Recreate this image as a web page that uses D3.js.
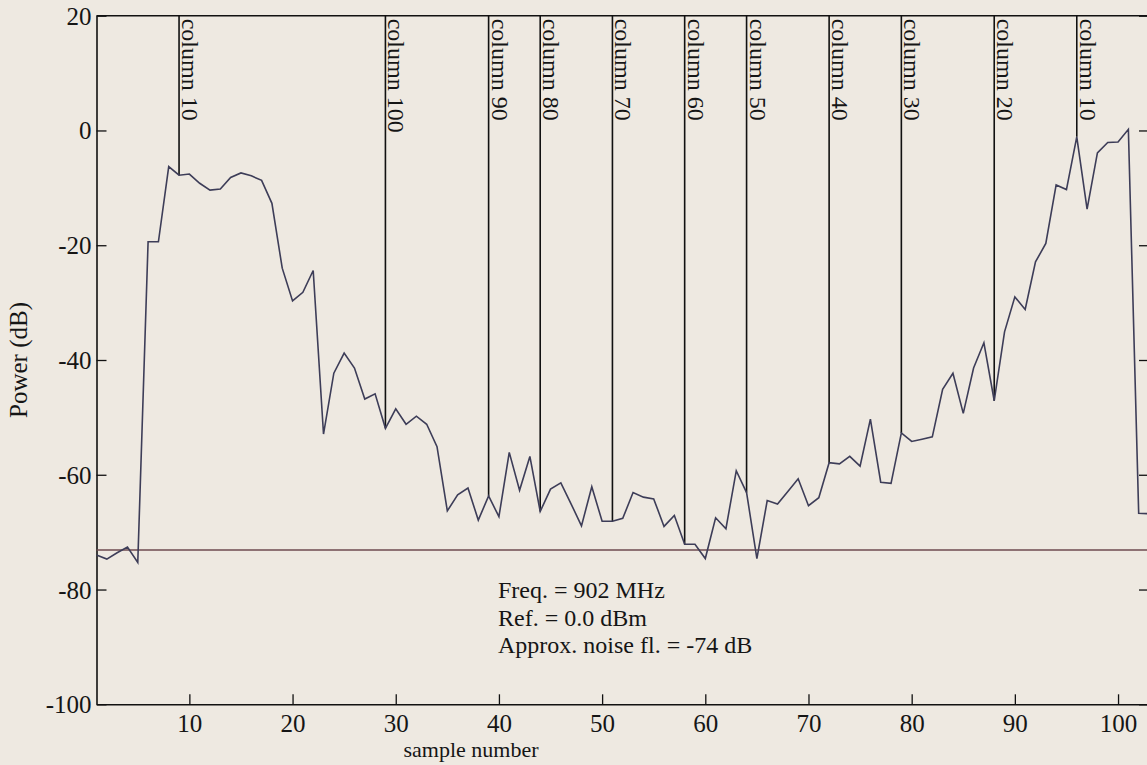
<!DOCTYPE html>
<html>
<head>
<meta charset="utf-8">
<script src="https://cdn.jsdelivr.net/npm/d3@7"></script>
<style>
  body { margin: 0; background: #eee9e1; overflow: hidden; }
  svg { display: block; }
  text { font-family: "Liberation Serif", "Times New Roman", serif; fill: #151515; }
</style>
</head>
<body>
<div id="container"></div>
<script>
// power per sample (sample 1..103)
let samples = d3.range(1, 104);
let power = [
  -74.0, -74.7, -73.6, -72.6, -75.3, -19.4, -19.4, -6.3, -7.8, -7.6,
  -9.2, -10.4, -10.2, -8.2, -7.4, -7.9, -8.7, -12.7, -24.0, -29.7,
  -28.2, -24.4, -52.9, -42.3, -38.8, -41.4, -46.8, -45.9, -51.9, -48.5,
  -51.2, -49.8, -51.2, -55.1, -66.3, -63.5, -62.3, -67.9, -63.7, -67.3,
  -56.1, -62.7, -56.8, -66.4, -62.5, -61.4, -65.1, -68.9, -62.1, -68.1,
  -68.1, -67.6, -63.1, -63.9, -64.2, -69.0, -67.1, -72.1, -72.1, -74.6,
  -67.5, -69.4, -59.3, -63.1, -74.6, -64.5, -65.1, -62.9, -60.7, -65.4,
  -64.0, -57.9, -58.1, -56.8, -58.5, -50.3, -61.3, -61.5, -52.7, -54.2,
  -53.8, -53.4, -45.1, -42.3, -49.3, -41.4, -37.0, -47.1, -35.1, -29.0,
  -31.2, -22.9, -19.7, -9.5, -10.3, -1.1, -13.7, -3.9, -2.1, -2.0,
  0.2, -66.7, -66.8
];

// column markers (sample where each column sits)
let markerSamples = [9, 29, 39, 44, 51, 58, 64, 72, 79, 88, 96];
let markerLabels = ["column 10", "column 100", "column 90", "column 80", "column 70",
  "column 60", "column 50", "column 40", "column 30", "column 20", "column 10"];

let xTicks = [10, 20, 30, 40, 50, 60, 70, 80, 90, 100];
let yTicks = [-100, -80, -60, -40, -20, 0, 20];
let noiseFloor = -73.1;
let infoLines = ["Freq. = 902 MHz", "Ref. = 0.0 dBm", "Approx. noise fl. = -74 dB"];

let w = 1147;
let h = 765;
let padL = 96.5, padR = 1149, padT = 15.7, padB = 704.3;

let viz = d3.select("#container")
    .append("svg")
    .attr("width", w)
    .attr("height", h);

let xScale = d3.scaleLinear().domain([1, 103]).range([padL, padR]);
let yScale = d3.scaleLinear().domain([-100, 20]).range([padB, padT]);

// frame
viz.append("line").attr("x1", padL).attr("x2", padR).attr("y1", padT).attr("y2", padT)
    .attr("stroke", "#111").attr("stroke-width", 1.6);

// axes, ticks point inward; plain hyphen for negatives like the original
let xAxis = d3.axisBottom(xScale).tickValues(xTicks).tickSizeInner(-10).tickSizeOuter(0).tickPadding(10)
    .tickFormat(d => String(d));
let yAxis = d3.axisLeft(yScale).tickValues(yTicks).tickSizeInner(-10).tickSizeOuter(0).tickPadding(5)
    .tickFormat(d => String(d));
let yAxisR = d3.axisRight(yScale).tickValues(yTicks).tickSizeInner(-10).tickSizeOuter(0).tickFormat("");

let xAxisGroup = viz.append("g").attr("transform", "translate(0," + padB + ")").call(xAxis);
let yAxisGroup = viz.append("g").attr("transform", "translate(" + padL + ",0)").call(yAxis);
let yAxisRGroup = viz.append("g").attr("transform", "translate(" + padR + ",0)").call(yAxisR);

[xAxisGroup, yAxisGroup, yAxisRGroup].forEach(g => {
  g.select(".domain").attr("stroke", "#111").attr("stroke-width", 1.6);
  g.selectAll(".tick line").attr("stroke", "#111").attr("stroke-width", 1.3);
  g.selectAll("text").attr("font-size", 25).attr("font-family", "Liberation Serif").attr("fill", "#151515");
});
yAxisGroup.selectAll(".tick text").attr("dy", "0.34em");

// axis titles
viz.append("text").attr("x", 471).attr("y", 757).attr("text-anchor", "middle")
    .attr("font-size", 22).text("sample number");
viz.append("text").attr("transform", "translate(27,360) rotate(-90)").attr("text-anchor", "middle")
    .attr("font-size", 25).text("Power (dB)");

// noise floor
viz.append("line")
    .attr("x1", padL).attr("x2", padR)
    .attr("y1", yScale(noiseFloor)).attr("y2", yScale(noiseFloor))
    .attr("stroke", "#6e4a4f").attr("stroke-width", 1.4);

// column marker lines + labels
let markers = viz.append("g").selectAll("g").data(markerSamples).enter().append("g");
markers.append("line")
    .attr("x1", d => xScale(d)).attr("x2", d => xScale(d))
    .attr("y1", padT).attr("y2", d => yScale(power[d - 1]))
    .attr("stroke", "#111").attr("stroke-width", 1.6);
markers.append("text")
    .attr("transform", d => "translate(" + (xScale(d) + 3) + "," + (padT + 3) + ") rotate(90)")
    .attr("font-size", 24)
    .text((d, i) => markerLabels[i]);

// the trace
let line = d3.line().x((d, i) => xScale(samples[i])).y(d => yScale(d));
viz.append("path").datum(power)
    .attr("d", line)
    .attr("fill", "none")
    .attr("stroke", "#3d3d58")
    .attr("stroke-width", 1.6)
    .attr("stroke-linejoin", "miter");

// info text
viz.append("g").selectAll("text").data(infoLines).enter().append("text")
    .attr("x", 498)
    .attr("y", (d, i) => 598 + i * 27.5)
    .attr("font-size", 24)
    .text(d => d);
</script>
</body>
</html>
